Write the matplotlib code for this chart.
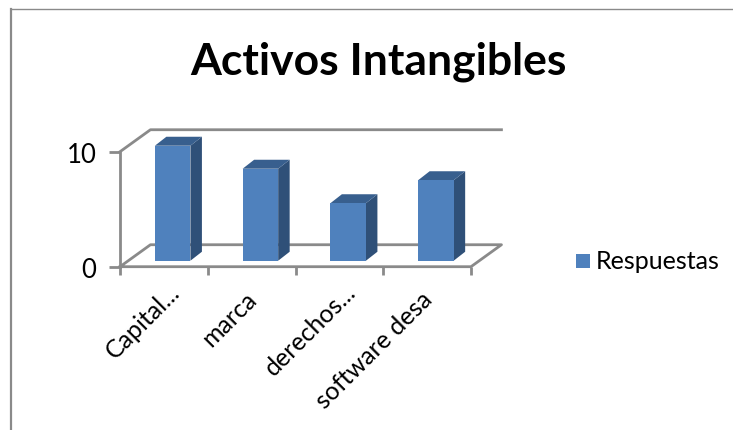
import matplotlib
matplotlib.use('Agg')
import matplotlib.pyplot as plt
from matplotlib.lines import Line2D
from matplotlib.patches import Polygon, Rectangle

plt.rcParams['font.family'] = ['Lato', 'DejaVu Sans']

categorias = ['Capital...', 'marca', 'derechos...', 'software desa']
respuestas = [10, 8, 5, 7]
y_ticks = [0, 10]

GRIS = '#8a8a8a'
FRENTE = '#4f81bd'
LADO = '#2f5078'
TAPA = '#385f8e'

W, H = 733, 431
fig = plt.figure(figsize=(W / 100, H / 100), dpi=100, facecolor='white')

# ejes frontales del grafico 3D
ax = fig.add_axes([120 / W, 1 - 267.7 / H, 351 / W, 115 / H])
ax.set_xlim(0, len(categorias))
ax.set_ylim(0, 10)
ax.patch.set_visible(False)
for lado in ax.spines.values():
    lado.set_visible(False)

# profundidad de la pared y de las barras, en unidades de datos
prof_x, prof_y = 0.347, 1.91
barra_dx, barra_dy = 0.131, 0.78
base_x, base_y = 0.10, 0.52
ancho = 0.405
n = len(categorias)

# pared y suelo
ax.plot([0, prof_x, n + prof_x], [10, 10 + prof_y, 10 + prof_y], color=GRIS, lw=2, clip_on=False)
ax.plot([0, 0], [0, 10], color=GRIS, lw=2, clip_on=False)
ax.plot([0, prof_x, n + prof_x, n, 0], [0, prof_y, prof_y, 0, 0], color=GRIS, lw=2, clip_on=False)

# barras
for i, v in enumerate(respuestas):
    x0 = i + 0.5 + base_x - ancho / 2
    x1 = x0 + ancho
    y0 = base_y
    y1 = base_y + v
    ax.add_patch(Polygon([(x1, y0), (x1 + barra_dx, y0 + barra_dy), (x1 + barra_dx, y1 + barra_dy), (x1, y1)],
                         fc=LADO, ec='none', clip_on=False, zorder=3))
    ax.add_patch(Polygon([(x0, y1), (x1, y1), (x1 + barra_dx, y1 + barra_dy), (x0 + barra_dx, y1 + barra_dy)],
                         fc=TAPA, ec='none', clip_on=False, zorder=3))
    ax.add_patch(Rectangle((x0, y0), ancho, v, fc=FRENTE, ec='none', clip_on=False, zorder=4))

# ticks y etiquetas
ax.set_xticks(range(n + 1))
ax.set_xticklabels([])
ax.set_yticks(y_ticks)
ax.set_yticklabels([str(t) for t in y_ticks], fontsize=18.5)
ax.tick_params(axis='both', color=GRIS, width=2, length=6)
ax.tick_params(axis='y', pad=9, length=8)

for i, nombre in enumerate(categorias):
    # las etiquetas sin puntos suspensivos acaban mas lejos del eje
    if nombre.endswith('...'):
        dx, dy = 9, -15
    else:
        dx, dy = 1, -20
    ax.annotate(nombre, xy=(i + 0.5, 0), xytext=(dx, dy), textcoords='offset points',
                rotation=45, rotation_mode='anchor', ha='right', va='center', fontsize=18)

# titulo
fig.text(378 / W, 1 - 62 / H, 'Activos Intangibles', fontsize=32, fontweight='bold',
         ha='center', va='center')

# leyenda
fig.patches.append(Rectangle((576 / W, 1 - 269 / H), 14 / W, 14 / H, transform=fig.transFigure,
                             fc=FRENTE, ec='none'))
fig.text(596 / W, 1 - 262 / H, 'Respuestas', fontsize=18, ha='left', va='center')

# marco exterior
fig.add_artist(Line2D([11 / W, 11 / W], [0, 1 - 10 / H], color=GRIS, lw=1.6))
fig.add_artist(Line2D([11 / W, 1], [1 - 10 / H, 1 - 10 / H], color=GRIS, lw=1.0))

fig.savefig('out.png', dpi=100)
